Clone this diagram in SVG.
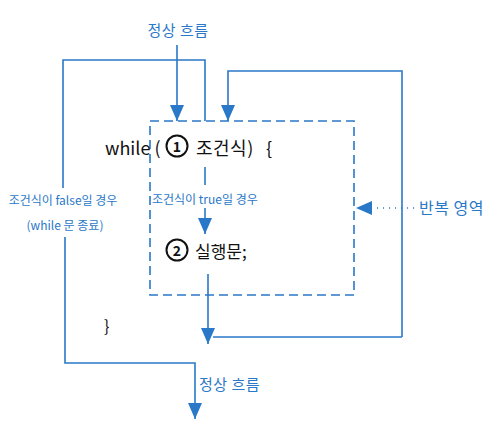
<svg xmlns="http://www.w3.org/2000/svg" width="494" height="429" viewBox="0 0 494 429">
<defs>
<marker id="ahL" viewBox="0 0 16 14" refX="16" refY="7" markerWidth="16" markerHeight="14" markerUnits="userSpaceOnUse" orient="auto">
<path d="M0,0 L16,7 L0,14 z" fill="#2a78c8"/>
</marker>
<style>
.ln{fill:none;stroke:#2a78c8;stroke-width:1.6}
.dot{fill:none;stroke:#2a78c8;stroke-width:1.6;stroke-dasharray:1 5}
.box{fill:none;stroke:#2a78c8;stroke-width:1.6;stroke-dasharray:9 5}
.bl{font-family:"Noto Sans CJK KR","Liberation Sans",sans-serif;fill:#2a78c8}
.bk{font-family:"Noto Sans CJK KR","Liberation Sans",sans-serif;fill:#111}
</style>
</defs>
<rect width="494" height="429" fill="#fff"/>
<g id="region">
<rect class="box" x="150" y="121" width="204" height="174"/>
</g>
<g id="connectors">
<path class="ln" d="M177,45 V121" marker-end="url(#ahL)"/>
<path class="ln" d="M205,121 V60 H63 V188"/>
<path class="ln" d="M65,237 V363 H195 V419" marker-end="url(#ahL)"/>
<path class="ln" d="M402,337 V71 H228 V121" marker-end="url(#ahL)"/>
<path class="ln" d="M205,167 V185"/>
<path class="ln" d="M205,208 V234" marker-end="url(#ahL)"/>
<path class="ln" d="M208,274 V344" marker-end="url(#ahL)"/>
<path class="ln" d="M402,337 H213"/>
<path class="dot" d="M414,208 H356" marker-end="url(#ahL)"/>
</g>
<g id="labels">
<text class="bl" x="178" y="36" font-size="15" text-anchor="middle" letter-spacing="0.5">정상 흐름</text>
<text class="bl" x="63" y="205" font-size="12" text-anchor="middle">조건식이 false일 경우</text>
<text class="bl" x="65" y="230" font-size="12" text-anchor="middle">(while 문 종료)</text>
<text class="bl" x="152" y="204" font-size="12">조건식이 true일 경우</text>
<text class="bl" x="419" y="214" font-size="16" letter-spacing="0.5">반복 영역</text>
<text class="bl" x="199" y="390" font-size="15" letter-spacing="0.5">정상 흐름</text>
</g>
<g id="code">
<text class="bk" x="105" y="155" font-size="18">while (</text>
<circle cx="177" cy="146" r="10.5" fill="none" stroke="#111" stroke-width="2"/>
<text class="bk" x="177" y="152" font-size="14" text-anchor="middle" font-weight="bold">1</text>
<text class="bk" x="196" y="155" font-size="18" letter-spacing="0.5">조건식)</text>
<text class="bk" x="266" y="155" font-size="18">{</text>
<circle cx="177" cy="250" r="10.5" fill="none" stroke="#111" stroke-width="2"/>
<text class="bk" x="177" y="256" font-size="14" text-anchor="middle" font-weight="bold">2</text>
<text class="bk" x="195" y="258" font-size="17">실행문;</text>
<text class="bk" x="104" y="332" font-size="16">}</text>
</g>
</svg>
